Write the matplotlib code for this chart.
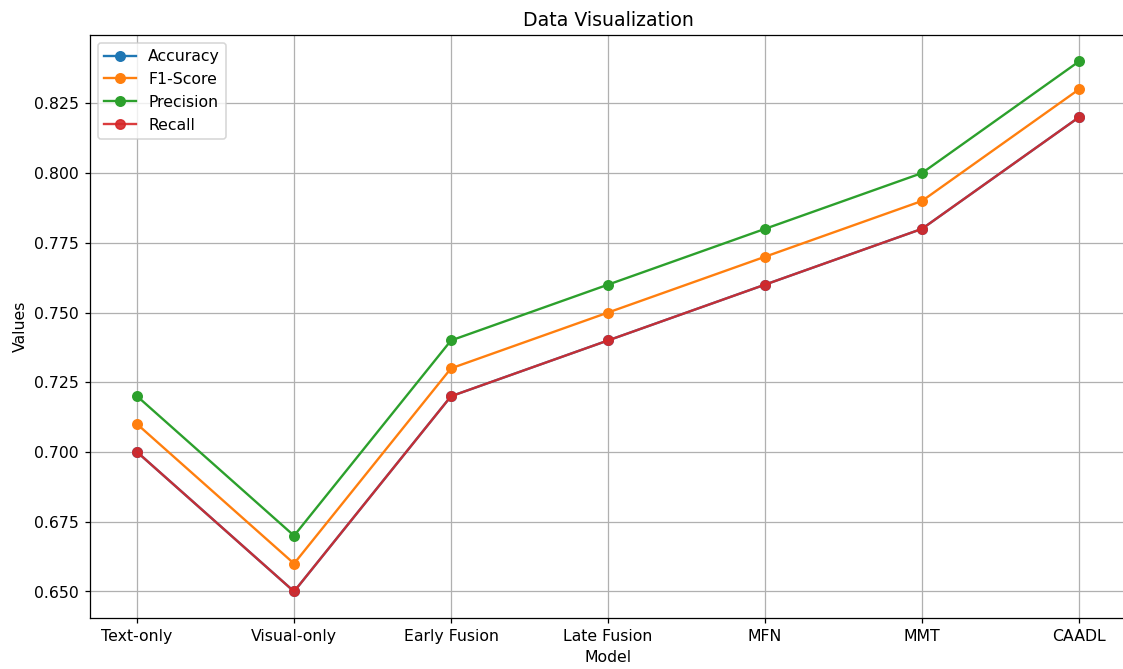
import numpy as np
import matplotlib.pyplot as plt

models = ['Text-only', 'Visual-only', 'Early Fusion', 'Late Fusion', 'MFN', 'MMT', 'CAADL']
accuracy = [0.70, 0.65, 0.72, 0.74, 0.76, 0.78, 0.82]
f1_score = [0.71, 0.66, 0.73, 0.75, 0.77, 0.79, 0.83]
precision = [0.72, 0.67, 0.74, 0.76, 0.78, 0.80, 0.84]
recall = [0.70, 0.65, 0.72, 0.74, 0.76, 0.78, 0.82]

fig = plt.figure(figsize=(1123 / 113, 669 / 113), dpi=113)
# axes runs slightly past the right edge, as in the reference crop
ax = fig.add_axes([90 / 1123, 1 - 618 / 669, 1036 / 1123, 583 / 669])

ax.plot(models, accuracy, marker='o', label='Accuracy')
ax.plot(models, f1_score, marker='o', label='F1-Score')
ax.plot(models, precision, marker='o', label='Precision')
ax.plot(models, recall, marker='o', label='Recall', alpha=0.9)

ax.set_xlabel('Model')
ax.set_ylabel('Values')
ax.set_title('Data Visualization')
ax.legend(loc='upper left')
ax.grid(True)

fig.savefig('out.png', dpi=113)
